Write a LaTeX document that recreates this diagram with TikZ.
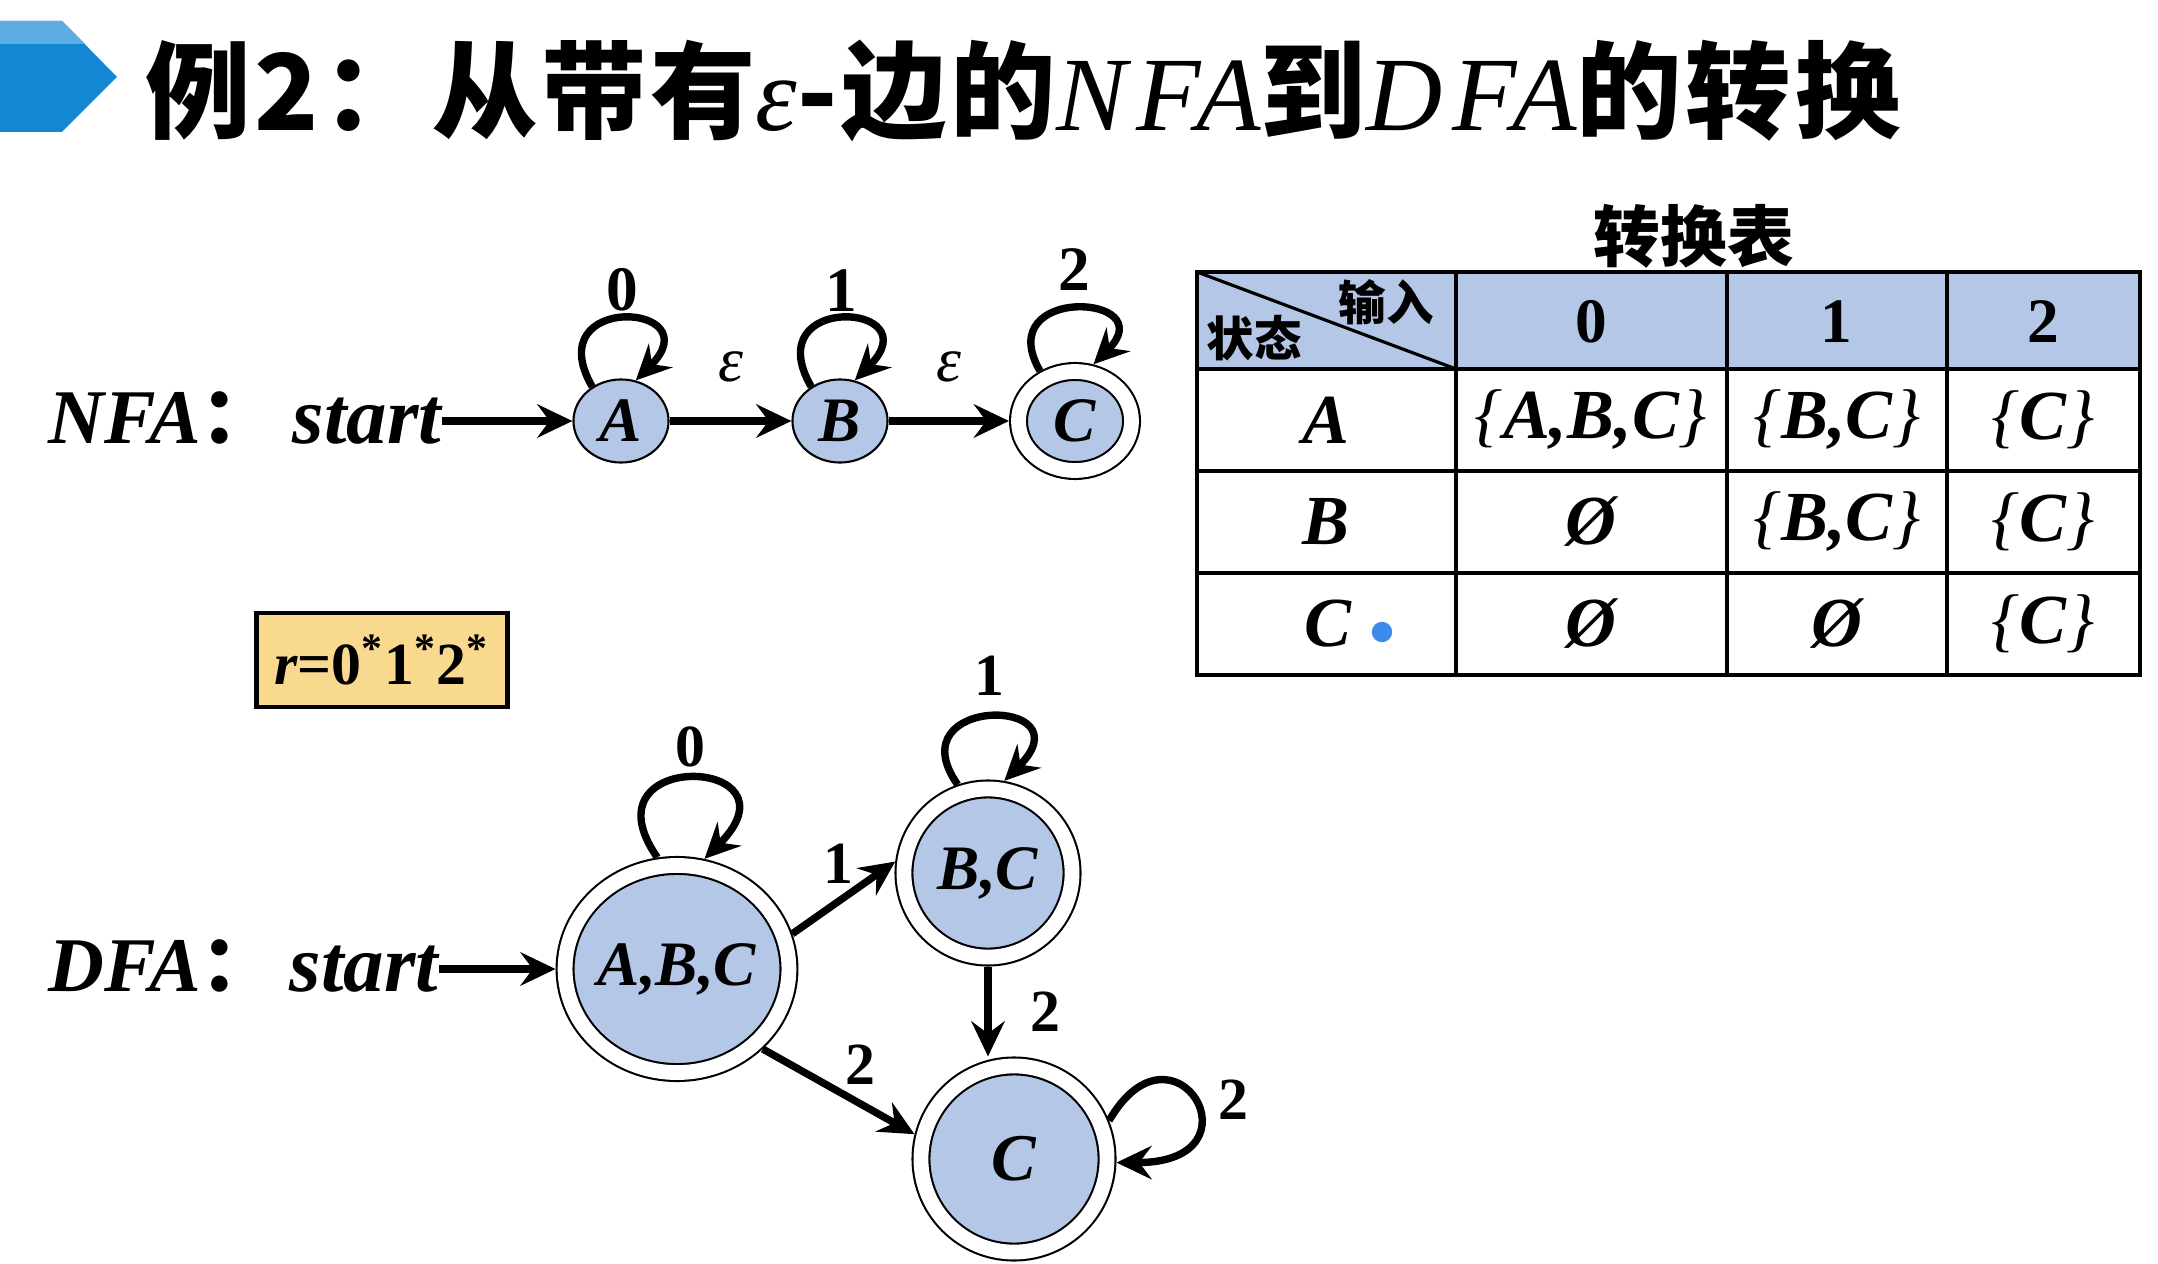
\documentclass[tikz,border=0pt]{standalone}
\usepackage{fontspec}
\setmainfont{Liberation Serif}
\newfontfamily\cjk{Noto Sans CJK SC}
\newfontfamily\cjkheavy{Noto Sans CJK SC Black}[LetterSpace=3.5]
\newfontfamily\titleserif{Liberation Serif}[LetterSpace=9]
\usetikzlibrary{arrows.meta,shapes.geometric,positioning}
\definecolor{stfill}{HTML}{B4C7E7}
\definecolor{boxfill}{HTML}{F8D98E}
\definecolor{bluedark}{HTML}{1487D4}
\definecolor{bluelight}{HTML}{5EAEE3}
\definecolor{dotblue}{HTML}{3B8BEB}
\newcommand{\fsz}[1]{\fontsize{#1}{#1}\selectfont}
\newcommand{\stset}[1]{{\mdseries\{}#1{\mdseries\}}}

\begin{document}
\begin{tikzpicture}[
	x=0.01cm, y=0.01cm,
	state/.style={ ellipse, draw, line width=0.6pt, fill=stfill, inner sep=0pt, font=\bfseries\itshape\fsz{18} },
	statef/.style={ state, double, double distance=4.2pt, outer sep=2.7pt },
	trans/.style={ line width=2.1pt, -{Stealth[length=10pt,width=9.5pt,inset=3.5pt]} },
	lbl/.style={ inner sep=1pt, font=\bfseries\fsz{17} },
	cell/.style={ font=\bfseries\itshape\fsz{20} }
]
\path[fill=white] (0,0) rectangle (2158,-1264);

% title
\fill[bluedark] (0,-21) -- (62,-21) -- (117,-77) -- (62,-132) -- (0,-132) -- cycle;
\fill[bluelight] (0,-21) -- (62,-21) -- (85,-44) -- (0,-44) -- cycle;
\node at (145,-91) (title) [anchor=west, inner sep=0pt, font=\cjkheavy\fsz{30}]
	{例2：从带有{\titleserif\itshape ε}-边的{\titleserif\itshape NFA}到{\titleserif\itshape DFA}的转换};

% NFA
\node at (48,-443) (nlab) [anchor=base west, inner sep=0pt, font=\bfseries\itshape\fsz{22}] {NFA{\cjk\bfseries ：}};
\node at (292,-443) (nstart) [anchor=base west, inner sep=0pt, font=\bfseries\itshape\fsz{23}] {start};
\node at (621,-421) (nA) [state, minimum width=0.95cm, minimum height=0.83cm] {A};
\node at (840,-421) (nB) [state, minimum width=0.95cm, minimum height=0.83cm] {B};
\node at (1075,-421) (nC) [statef, minimum width=1.13cm, minimum height=0.99cm] {C};
\draw[trans] (nstart.east |- nA) -- (nA);
\draw[trans] (nA) -- node[above=9pt, lbl, font=\itshape\fsz{18}] {ε} (nB);
\draw[trans] (nB) -- node[above=9pt, lbl, font=\itshape\fsz{18}] {ε} (nC);
\draw[trans] (nA.130) .. controls +(120:110) and +(45:110) .. node[above=0pt, lbl, font=\bfseries\fsz{18}] {0} (nA.70);
\draw[trans] (nB.130) .. controls +(120:110) and +(45:110) .. node[above=0pt, lbl, font=\bfseries\fsz{18}] {1} (nB.70);
\draw[trans] (nC.125) .. controls +(120:100) and +(45:100) .. node[above=3pt, lbl, font=\bfseries\fsz{18}] {2} (nC.72);

% regular expression
\node at (382,-660) (regex) [draw, line width=1.2pt, fill=boxfill, minimum width=2.51cm, minimum height=0.94cm, inner sep=0pt, font=\bfseries\fsz{17}]
	{{\itshape r}=0\textsuperscript{*}1\textsuperscript{*}2\textsuperscript{*}};

% transition table
\node at (1694,-236) (ttitle) [font=\cjk\bfseries\fsz{19}] {转换表};
\fill[stfill] (1197,-272) rectangle (2140,-369);
\foreach \x in {1456,1727,1947} \draw[line width=1pt] (\x,-272) -- (\x,-675);
\foreach \y in {369,471,573} \draw[line width=1pt] (1197,-\y) -- (2140,-\y);
\draw[line width=1.1pt] (1197,-272) rectangle (2140,-675);
\draw[line width=0.9pt] (1197,-272) -- (1456,-369);
\node at (1386,-302) (hin) [font=\cjk\bfseries\fsz{13.5}] {输入};
\node at (1254,-338) (hst) [font=\cjk\bfseries\fsz{13.5}] {状态};
\node at (1591,-322) (h0) [font=\bfseries\fsz{18}] {0};
\node at (1836,-322) (h1) [font=\bfseries\fsz{18}] {1};
\node at (2043,-322) (h2) [font=\bfseries\fsz{18}] {2};
\node at (1326,-420) (rA) [cell] {A};
\node at (1326,-522) (rB) [cell] {B};
\node at (1328,-624) (rC) [cell] {C};
\fill[dotblue] (1382,-632) circle (2.9pt);
\node at (1591,-420) (cA0) [cell] {\stset{A,B,C}};
\node at (1837,-420) (cA1) [cell] {\stset{B,C}};
\node at (2043,-420) (cA2) [cell] {\stset{C}};
\node at (1591,-522) (cB0) [cell] {Ø};
\node at (1837,-522) (cB1) [cell] {\stset{B,C}};
\node at (2043,-522) (cB2) [cell] {\stset{C}};
\node at (1591,-624) (cC0) [cell] {Ø};
\node at (1837,-624) (cC1) [cell] {Ø};
\node at (2043,-624) (cC2) [cell] {\stset{C}};

% DFA
\node at (48,-991) (dlab) [anchor=base west, inner sep=0pt, font=\bfseries\itshape\fsz{22}] {DFA{\cjk\bfseries ：}};
\node at (289,-991) (dstart) [anchor=base west, inner sep=0pt, font=\bfseries\itshape\fsz{23}] {start};
\node at (677,-969) (dABC) [statef, minimum size=2.07cm] {A,B,C};
\node at (988,-873) (dBC) [statef, minimum size=1.68cm] {B,C};
\node at (1014,-1159) (dC) [statef, minimum size=1.86cm, font=\bfseries\itshape\fsz{19}] {C};
\draw[trans] (dstart.east |- dABC) -- (dABC);
\draw[trans] (dABC.17) -- node[above=3pt, pos=.45, lbl] {1} (dBC.173);
\draw[trans] (dABC.-43) -- node[above right=0pt, lbl] {2} (dC.166);
\draw[trans] (dBC) -- node[right=10pt, lbl] {2} (dBC |- dC.north);
\draw[trans] (dABC.100) .. controls +(125:135) and +(45:145) .. node[above=1pt, lbl] {0} (dABC.76);
\draw[trans] (dBC.109) .. controls +(125:110) and +(45:120) .. node[above=4pt, lbl] {1} (dBC.80);
\draw[trans] (dC.22) .. controls +(60:130) and +(0:150) .. node[right=5pt, lbl] {2} (dC.-2);

\end{tikzpicture}
\end{document}
